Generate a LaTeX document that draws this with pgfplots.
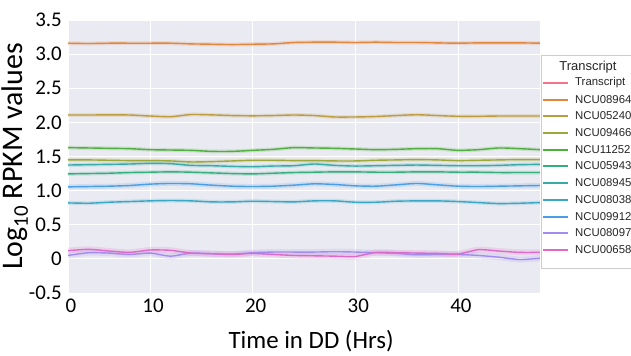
\documentclass[border=0pt]{standalone}
\usepackage{pgfplots}
\pgfplotsset{compat=1.18}
\usepackage{pgfplotstable}
\usepackage{fontspec}
\setmainfont{Carlito}
\newfontfamily\legfont{Liberation Sans}

\definecolor{bgc}{HTML}{EAEAF2}
\definecolor{colT}{HTML}{F77189}
\definecolor{colA}{HTML}{E3853A}
\definecolor{colB}{HTML}{BC9C3E}
\definecolor{colC}{HTML}{9DA83A}
\definecolor{colD}{HTML}{4FAF3C}
\definecolor{colE}{HTML}{35AE7E}
\definecolor{colF}{HTML}{37ACA6}
\definecolor{colG}{HTML}{39A8C4}
\definecolor{colH}{HTML}{4A9EE6}
\definecolor{colI}{HTML}{A38CF0}
\definecolor{colJ}{HTML}{DE6AC8}

\pgfplotstableread{
t  a     b     c     d     e     f     g     h     i     j
2  3.160 2.108 1.450 1.630 1.245 1.375 0.820 1.055 0.050 0.120
4  3.155 2.108 1.450 1.625 1.250 1.380 0.815 1.060 0.090 0.140
6  3.160 2.110 1.445 1.620 1.255 1.385 0.830 1.065 0.085 0.115
8  3.160 2.108 1.440 1.615 1.265 1.390 0.840 1.075 0.065 0.095
10 3.160 2.093 1.440 1.600 1.270 1.400 0.850 1.095 0.085 0.130
12 3.160 2.083 1.435 1.595 1.275 1.395 0.855 1.105 0.040 0.125
14 3.150 2.115 1.420 1.590 1.270 1.370 0.850 1.100 0.085 0.085
16 3.145 2.110 1.425 1.575 1.260 1.365 0.835 1.080 0.075 0.075
18 3.140 2.100 1.435 1.575 1.250 1.355 0.835 1.065 0.070 0.065
20 3.145 2.096 1.445 1.590 1.245 1.350 0.845 1.060 0.090 0.080
22 3.150 2.100 1.445 1.605 1.255 1.360 0.840 1.065 0.100 0.065
24 3.170 2.108 1.440 1.630 1.265 1.365 0.835 1.080 0.100 0.050
26 3.175 2.100 1.440 1.625 1.270 1.390 0.850 1.100 0.100 0.045
28 3.175 2.079 1.435 1.620 1.275 1.370 0.850 1.090 0.105 0.040
30 3.170 2.079 1.435 1.610 1.275 1.360 0.830 1.070 0.100 0.035
32 3.175 2.086 1.445 1.600 1.270 1.365 0.830 1.065 0.090 0.095
34 3.170 2.100 1.450 1.605 1.270 1.370 0.845 1.085 0.080 0.090
36 3.170 2.112 1.455 1.615 1.275 1.375 0.850 1.105 0.060 0.085
38 3.165 2.100 1.450 1.615 1.275 1.370 0.850 1.085 0.065 0.080
40 3.160 2.089 1.440 1.590 1.270 1.365 0.840 1.065 0.065 0.070
42 3.165 2.089 1.445 1.600 1.270 1.365 0.825 1.060 0.050 0.135
44 3.165 2.093 1.450 1.625 1.265 1.370 0.810 1.065 0.025 0.115
46 3.165 2.093 1.455 1.615 1.265 1.380 0.815 1.070 -0.010 0.095
48 3.160 2.093 1.455 1.600 1.265 1.385 0.825 1.075 0.010 0.095
}\data

\begin{document}
\begin{tikzpicture}
\path[use as bounding box] (-68bp,-63bp) rectangle (563bp,293bp);
\begin{axis}[
  scale only axis, width=472bp, height=273bp,
  xmin=2, xmax=48, ymin=-0.5, ymax=3.5,
  axis background/.style={fill=bgc},
  axis line style={draw=none},
  major tick length=0pt,
  grid=major, major grid style={white, line width=0.8bp},
  xtick={2,10,20,30,40}, xticklabels={0,10,20,30,40},
  ytick={-0.5,0,0.5,1,1.5,2,2.5,3,3.5},
  yticklabels={-0.5,0,0.5,1.0,1.5,2.0,2.5,3.0,3.5},
  tick label style={font=\fontsize{21}{21}\selectfont, text=black},
  xticklabel style={anchor=center, yshift=-13bp, xshift=3bp},
  yticklabel style={anchor=east, inner sep=0pt, xshift=-6bp},
  xlabel={Time in DD (Hrs)},
  ylabel={Log\textsubscript{10} RPKM values},
  xlabel style={font=\fontsize{25}{25}\selectfont, at={(axis description cs:0.515,-0.176)}, anchor=center},
  ylabel style={font=\fontsize{30}{30}\selectfont, at={(axis description cs:-0.112,0.5)}, anchor=center},
  every axis plot/.append style={line width=1.4bp, line join=round, smooth, tension=0.4},
]
\addplot[draw=colA, opacity=0.18, line width=4bp, forget plot] table[x=t,y=a]{\data};
\addplot[draw=colB, opacity=0.18, line width=4bp, forget plot] table[x=t,y=b]{\data};
\addplot[draw=colC, opacity=0.18, line width=4bp, forget plot] table[x=t,y=c]{\data};
\addplot[draw=colD, opacity=0.18, line width=4bp, forget plot] table[x=t,y=d]{\data};
\addplot[draw=colE, opacity=0.18, line width=4bp, forget plot] table[x=t,y=e]{\data};
\addplot[draw=colF, opacity=0.18, line width=4bp, forget plot] table[x=t,y=f]{\data};
\addplot[draw=colG, opacity=0.18, line width=4bp, forget plot] table[x=t,y=g]{\data};
\addplot[draw=colH, opacity=0.18, line width=5bp, forget plot] table[x=t,y=h]{\data};
\addplot[draw=colI, opacity=0.18, line width=6bp, forget plot] table[x=t,y=i]{\data};
\addplot[draw=colJ, opacity=0.18, line width=6bp, forget plot] table[x=t,y=j]{\data};
\addplot[draw=colA] table[x=t,y=a]{\data};
\addplot[draw=colB] table[x=t,y=b]{\data};
\addplot[draw=colC] table[x=t,y=c]{\data};
\addplot[draw=colD] table[x=t,y=d]{\data};
\addplot[draw=colE] table[x=t,y=e]{\data};
\addplot[draw=colF] table[x=t,y=f]{\data};
\addplot[draw=colG] table[x=t,y=g]{\data};
\addplot[draw=colH] table[x=t,y=h]{\data};
\addplot[draw=colI] table[x=t,y=i]{\data};
\addplot[draw=colJ] table[x=t,y=j]{\data};
\end{axis}
% legend (drawn beside the axis)
\fill[white] (473bp,238bp) rectangle (575bp,25bp);
\draw[black!20, line width=0.6bp] (575bp,238bp) -- (473bp,238bp) -- (473bp,25bp) -- (575bp,25bp);
\node[font=\legfont\fontsize{13}{13}\selectfont, text=black!85, inner sep=0pt] at (520bp,226bp) {Transcript};
\foreach \c/\lab [count=\k from 0] in {colT/Transcript, colA/NCU08964, colB/NCU05240, colC/NCU09466, colD/NCU11252, colE/NCU05943, colF/NCU08945, colG/NCU08038, colH/NCU09912, colI/NCU08097, colJ/NCU00658}{
  \pgfmathsetmacro{\yy}{round(210-16.7*\k)}
  \draw[\c, line width=2bp] (475bp,\yy bp) -- (500bp,\yy bp);
  \node[font=\legfont\fontsize{11.4}{13}\selectfont, text=black!85, anchor=west, inner sep=0pt] at (507bp,\yy bp) {\lab};
}
\end{tikzpicture}
\end{document}
